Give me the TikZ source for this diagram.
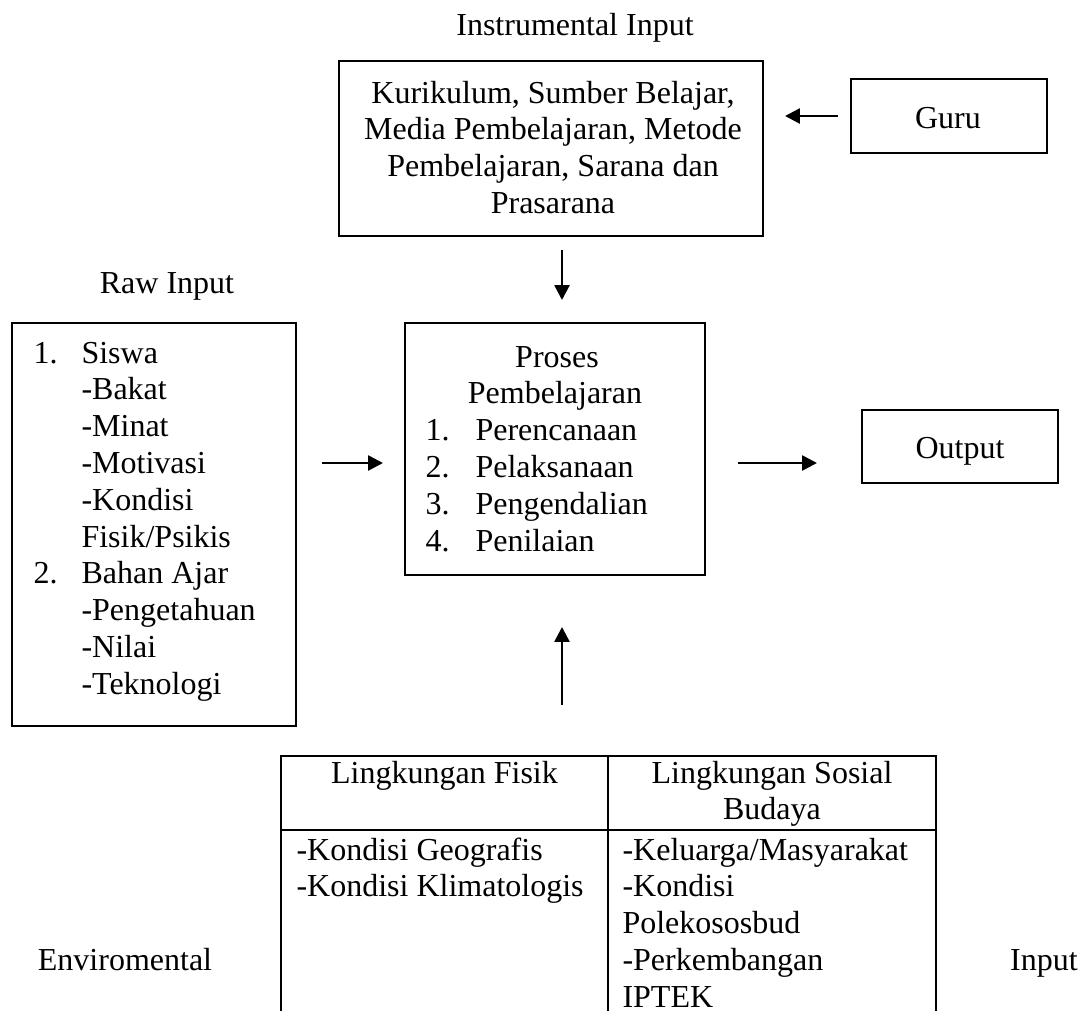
\documentclass[tikz,border=0pt]{standalone}
\usepackage{fontspec}
\setmainfont{Liberation Serif}
\usetikzlibrary{arrows.meta,fit}
\begin{document}
\begin{tikzpicture}[x=0.375pt,y=-0.375pt,
  txt/.style={inner sep=0pt, font=\fontsize{12pt}{13.8pt}\selectfont},
  box/.style={draw, line width=1pt, inner sep=0pt},
  arr/.style={line width=1pt, -{Triangle[length=5.6pt,width=5.6pt]}},
  tbl/.style={line width=0.8pt}]
\useasboundingbox (0,0) rectangle (1080,1011);

% boxes
\node[box, fit={(339,61) (763,236)}] (instr) {};
\node[box, fit={(851,79) (1047,153)}] (guru) {};
\node[box, fit={(12,323) (296,726)}] (raw) {};
\node[box, fit={(405,323) (705,575)}] (proc) {};
\node[box, fit={(862,410) (1058,483)}] (out) {};

% free labels
\node[txt, anchor=base] (tInstr) at (575,35) {Instrumental Input};
\node[txt, anchor=base] (tRaw) at (167,293) {Raw Input};
\node[txt, anchor=base] (tGuru) at (948,128) {Guru};
\node[txt, anchor=base] (tOut) at (960,458) {Output};
\node[txt, anchor=base] (tEnv) at (125,970) {Enviromental};
\node[txt, anchor=base] (tIn) at (1044,970) {Input};

% instrumental box text
\foreach \t [count=\i from 0] in {{Kurikulum, Sumber Belajar,},{Media Pembelajaran, Metode},{Pembelajaran, Sarana dan},{Prasarana}}
  \node[txt, anchor=base] (il\i) at (553,{103+36.8*\i}) {\t};

% raw input text
\node[txt, anchor=base west] (rn1) at (33,363) {1.};
\node[txt, anchor=base west] (rn2) at (33,{363+6*36.8}) {2.};
\foreach \t [count=\i from 0] in {Siswa,-Bakat,-Minat,-Motivasi,-Kondisi,Fisik/Psikis,Bahan Ajar,-Pengetahuan,-Nilai,-Teknologi}
  \node[txt, anchor=base west] (rl\i) at (81,{363+36.8*\i}) {\t};

% process text
\node[txt, anchor=base] (p0) at (557,367) {Proses};
\node[txt, anchor=base] (p1) at (555,{367+36.8}) {Pembelajaran};
\foreach \t [count=\i] in {Perencanaan,Pelaksanaan,Pengendalian,Penilaian} {
  \node[txt, anchor=base west] (pn\i) at (425,{367+36.8*(\i+1)}) {\i.};
  \node[txt, anchor=base west] (pi\i) at (475,{367+36.8*(\i+1)}) {\t};
}

% environmental table
\draw[tbl] (281,1011) -- (281,756) -- (936,756) -- (936,1011);
\draw[tbl] (608,756) -- (608,1011);
\draw[tbl] (281,830) -- (936,830);
\node[txt, anchor=base] (h1) at (444.5,783) {Lingkungan Fisik};
\node[txt, anchor=base] (h2) at (772,783) {Lingkungan Sosial};
\node[txt, anchor=base] (h3) at (772,{783+36.8}) {Budaya};
\foreach \t [count=\i from 0] in {-Kondisi Geografis,-Kondisi Klimatologis}
  \node[txt, anchor=base west] (fl\i) at (296,{860+36.8*\i}) {\t};
\foreach \t [count=\i from 0] in {-Keluarga/Masyarakat,-Kondisi,Polekososbud,-Perkembangan,IPTEK}
  \node[txt, anchor=base west] (sl\i) at (622,{860+36.8*\i}) {\t};

% arrows
\coordinate (gA) at (838,116); \coordinate (gB) at (785,116);
\coordinate (dA) at (562,250); \coordinate (dB) at (562,300);
\coordinate (rA) at (322,463); \coordinate (rB) at (383,463);
\coordinate (oA) at (738,463); \coordinate (oB) at (817,463);
\coordinate (uA) at (562,705); \coordinate (uB) at (562,627);
\draw[arr] (gA) -- (gB);
\draw[arr] (dA) -- (dB);
\draw[arr] (rA) -- (rB);
\draw[arr] (oA) -- (oB);
\draw[arr] (uA) -- (uB);
\end{tikzpicture}
\end{document}
